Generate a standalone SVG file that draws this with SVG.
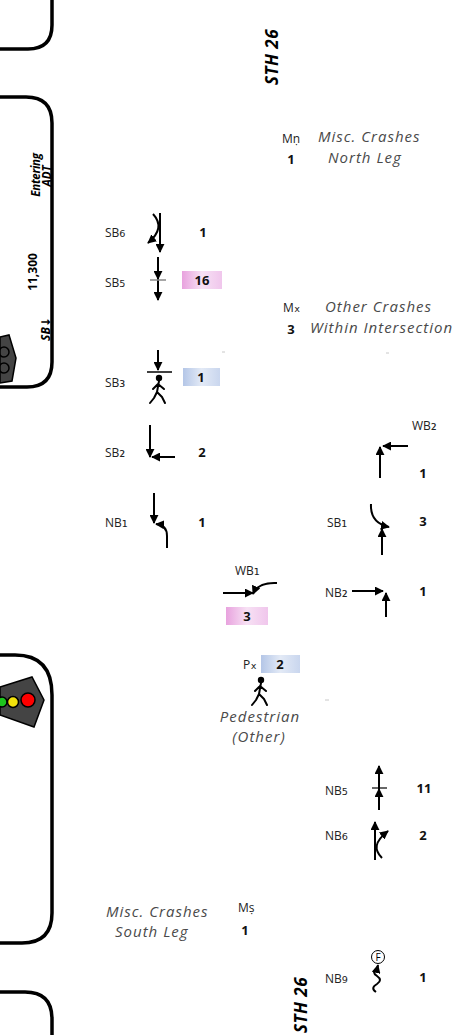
<svg xmlns="http://www.w3.org/2000/svg" width="458" height="1035" viewBox="0 0 458 1035">
  <style>
    .curb { fill: none; stroke: #000; stroke-width: 3.5; stroke-linecap: round; }
    .mv { fill: none; stroke: #000; stroke-width: 2; marker-end: url(#ah); }
    .lbl { font-family: "Open Sans", "Noto Sans", "DejaVu Sans", sans-serif; font-size: 12px; fill: #222; }
    .sub { font-family: "DejaVu Sans", sans-serif; font-size: 15px; }
    .num { font-family: "Open Sans", "Noto Sans", "DejaVu Sans", sans-serif; font-size: 13px; font-weight: bold; fill: #111; text-anchor: middle; }
    .hand { font-family: "Open Sans", "Noto Sans", sans-serif; font-style: italic; font-size: 15px; fill: #4a4a4a; letter-spacing: 1px; }
    .road { font-family: "Open Sans", "Noto Sans", sans-serif; font-style: italic; font-weight: bold; font-size: 17px; fill: #000; text-anchor: middle; letter-spacing: 0.5px; }
    .blk { font-family: "Open Sans", "Noto Sans", sans-serif; font-weight: bold; fill: #000; text-anchor: middle; }
    .ped { fill: none; stroke: #000; stroke-width: 2; stroke-linecap: round; stroke-linejoin: round; }
    .speck { stroke: #c8c8c8; stroke-width: 1; }
  </style>
  <defs>
    <marker id="ah" viewBox="0 0 10 10" refX="9" refY="5" markerWidth="9" markerHeight="9" markerUnits="userSpaceOnUse" orient="auto">
      <path d="M0,0 L10,5 L0,10 z" fill="#000"/>
    </marker>
    <linearGradient id="pink" x1="0" y1="0" x2="1" y2="0">
      <stop offset="0" stop-color="#e8a2de"/>
      <stop offset="0.5" stop-color="#f7e1f4"/>
      <stop offset="1" stop-color="#f0c6ec"/>
    </linearGradient>
    <linearGradient id="blue" x1="0" y1="0" x2="1" y2="0">
      <stop offset="0" stop-color="#b4c6e7"/>
      <stop offset="0.5" stop-color="#e3eaf6"/>
      <stop offset="1" stop-color="#c9d6ee"/>
    </linearGradient>
    <!-- walking pedestrian, origin at the head centre -->
    <g id="walker">
      <circle cx="0" cy="0" r="3.2" fill="#000"/>
      <path class="ped" d="M0,3 L-2,14 M-1,6 L-6,11 M-1,6 L5,11 M-2,14 L-5,20 L-9,25 M-2,14 L3,19 L6,25"/>
    </g>
  </defs>

  <!-- curb lines of the west side -->
  <g id="curbs">
    <path class="curb" d="M52,0 V25 Q52,49 28,49 H0"/>
    <path class="curb" d="M0,97 H26 Q52,97 52,123 V362 Q52,387 27,387 H0"/>
    <path class="curb" d="M0,655 H15 Q52,655 52,695 V913 Q52,943 22,943 H0"/>
    <path class="curb" d="M0,992 H25 Q52,992 52,1019 V1035"/>
  </g>

  <!-- signal heads -->
  <g id="signal-north">
    <path d="M0,337 L9,335 L16,358 L12,381 L0,383 z" fill="#444" stroke="#000" stroke-width="1.5"/>
    <circle cx="4" cy="352" r="5" fill="none" stroke="#000" stroke-width="1.5"/>
    <circle cx="4" cy="368" r="5" fill="none" stroke="#000" stroke-width="1.5"/>
  </g>
  <g id="signal-south">
    <path d="M0,687 L32,677 L44,700 L34,727 L0,715 z" fill="#444" stroke="#000" stroke-width="1.5"/>
    <circle cx="2" cy="702" r="5" fill="#1ec41e" stroke="#000" stroke-width="1.5"/>
    <circle cx="13" cy="702" r="5.5" fill="#f2e20c" stroke="#000" stroke-width="1.5"/>
    <circle cx="28" cy="700" r="7" fill="#f00" stroke="#000" stroke-width="1.5"/>
  </g>

  <!-- entering volume panel -->
  <g id="adt">
    <text class="blk" font-style="italic" font-size="11.5" letter-spacing="-0.3" transform="translate(40,175) rotate(-90)">Entering</text>
    <text class="blk" font-style="italic" font-size="11.5" transform="translate(51,176) rotate(-90)">ADT</text>
    <text class="blk" font-size="12" transform="translate(37,272) rotate(-90)">11,300</text>
    <text class="blk" font-style="italic" font-size="12" transform="translate(50,329) rotate(-90)">SB<tspan font-family="DejaVu Sans, sans-serif" font-style="normal">↓</tspan></text>
  </g>

  <!-- route names -->
  <g id="route-north"><text class="road" transform="translate(278,57) rotate(-90)">STH 26</text></g>
  <g id="route-south"><text class="road" style="text-anchor:start" transform="translate(307,1033) rotate(-90)">STH 26</text></g>

  <!-- movement symbols -->
  <g id="connectors">
    <!-- SB6 -->
    <path class="mv" d="M160,213 V252"/>
    <path class="mv" d="M153,214 Q166,228 148,243"/>
    <!-- SB5 -->
    <path class="mv" d="M158,257 V279"/>
    <path class="mv" d="M158,279 V300"/>
    <line x1="150" y1="280" x2="166" y2="280" stroke="#888" stroke-width="1.5"/>
    <!-- SB3 -->
    <path class="mv" d="M158,350 V370"/>
    <line x1="147" y1="372" x2="172" y2="372" stroke="#000" stroke-width="1.5"/>
    <!-- SB2 -->
    <path class="mv" d="M150,425 V457"/>
    <path class="mv" d="M175,457 H152"/>
    <!-- NB1 -->
    <path class="mv" d="M154,493 V523"/>
    <path class="mv" d="M167,548 V536 Q167,525 156,524"/>
    <!-- WB2 -->
    <path class="mv" d="M380,478 V447"/>
    <path class="mv" d="M408,446 H383"/>
    <!-- SB1 -->
    <path class="mv" d="M371,504 Q370,523 389,527"/>
    <path class="mv" d="M382,555 V529"/>
    <!-- NB2 -->
    <path class="mv" d="M352,591 H383"/>
    <path class="mv" d="M386,617 V593"/>
    <!-- WB1 -->
    <path class="mv" d="M223,593 H253"/>
    <path class="mv" d="M277,583 Q258,582 253,594"/>
    <!-- NB5 -->
    <path class="mv" d="M379,810 V789"/>
    <path class="mv" d="M379,789 V766"/>
    <line x1="372" y1="788" x2="387" y2="788" stroke="#000" stroke-width="1.2"/>
    <!-- NB6 -->
    <path class="mv" d="M375,860 V822"/>
    <path class="mv" d="M382,858 C374,850 374,842 388,831"/>
    <!-- NB9 -->
    <path class="mv" stroke-width="1.3" d="M376,992 Q370,988 377,984 Q383,980 377,976 Q371,972 377,969 L378,965"/>
    <circle cx="378" cy="957" r="6.5" fill="#fff" stroke="#000" stroke-width="1"/>
    <text x="378" y="960.5" font-family="Open Sans, sans-serif" font-size="10" text-anchor="middle">F</text>
  </g>

  <!-- movement labels and counts -->
  <g id="sb6"><text class="lbl" x="105" y="237">SB<tspan class="sub">₆</tspan></text><text class="num" x="203" y="237">1</text></g>
  <g id="sb5"><text class="lbl" x="105" y="287">SB<tspan class="sub">₅</tspan></text><rect x="182" y="271" width="40" height="18" fill="url(#pink)"/><text class="num" x="202" y="285">16</text></g>
  <g id="sb3"><text class="lbl" x="105" y="387">SB<tspan class="sub">₃</tspan></text><rect x="183" y="368" width="37" height="18" fill="url(#blue)"/><text class="num" x="201" y="382">1</text><use href="#walker" x="159" y="378"/></g>
  <g id="sb2"><text class="lbl" x="105" y="457">SB<tspan class="sub">₂</tspan></text><text class="num" x="202" y="457">2</text></g>
  <g id="nb1"><text class="lbl" x="105" y="527">NB<tspan class="sub">₁</tspan></text><text class="num" x="202" y="527">1</text></g>
  <g id="wb2"><text class="lbl" x="412" y="430">WB<tspan class="sub">₂</tspan></text><text class="num" x="423" y="478">1</text></g>
  <g id="sb1"><text class="lbl" x="327" y="527">SB<tspan class="sub">₁</tspan></text><text class="num" x="423" y="526">3</text></g>
  <g id="nb2"><text class="lbl" x="325" y="597">NB<tspan class="sub">₂</tspan></text><text class="num" x="423" y="596">1</text></g>
  <g id="wb1"><text class="lbl" x="235" y="575">WB<tspan class="sub">₁</tspan></text><rect x="226" y="607" width="42" height="18" fill="url(#pink)"/><text class="num" x="247" y="621">3</text></g>
  <g id="nb5"><text class="lbl" x="325" y="795">NB<tspan class="sub">₅</tspan></text><text class="num" x="424" y="793">11</text></g>
  <g id="nb6"><text class="lbl" x="325" y="840">NB<tspan class="sub">₆</tspan></text><text class="num" x="423" y="840">2</text></g>
  <g id="nb9"><text class="lbl" x="325" y="983">NB<tspan class="sub">₉</tspan></text><text class="num" x="423" y="982">1</text></g>

  <!-- miscellaneous crash groups -->
  <g id="misc-north">
    <text class="lbl" x="282" y="143">Mṇ</text><text class="num" x="291" y="164">1</text>
    <text class="hand" x="318" y="142">Misc. Crashes</text>
    <text class="hand" x="328" y="163">North Leg</text>
  </g>
  <g id="misc-int">
    <text class="lbl" x="283" y="312">M<tspan class="sub">ₓ</tspan></text><text class="num" x="291" y="334">3</text>
    <text class="hand" x="325" y="312">Other Crashes</text>
    <text class="hand" x="310" y="333">Within Intersection</text>
  </g>
  <g id="pedestrian">
    <text class="lbl" x="243" y="669">P<tspan class="sub">ₓ</tspan></text>
    <rect x="261" y="655" width="39" height="18" fill="url(#blue)"/><text class="num" x="280" y="669">2</text>
    <use href="#walker" x="261" y="680"/>
    <text class="hand" x="260" y="722" text-anchor="middle">Pedestrian</text>
    <text class="hand" x="259" y="742" text-anchor="middle">(Other)</text>
  </g>
  <g id="misc-south">
    <text class="hand" x="106" y="917">Misc. Crashes</text>
    <text class="hand" x="115" y="937">South Leg</text>
    <text class="lbl" x="238" y="912">Mṣ</text><text class="num" x="245" y="935">1</text>
  </g>

  <!-- stray marks -->
  <g id="specks">
    <line class="speck" x1="222" y1="352" x2="225" y2="352"/>
    <line class="speck" x1="386" y1="353" x2="389" y2="353"/>
    <line class="speck" x1="325" y1="700" x2="329" y2="700"/>
  </g>
</svg>
